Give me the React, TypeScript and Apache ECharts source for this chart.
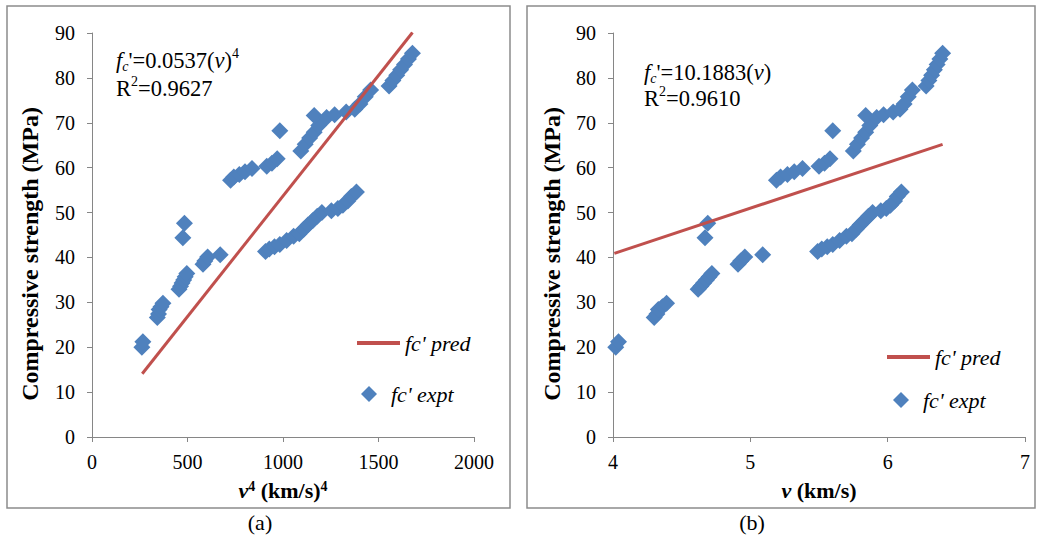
import React, { useEffect, useRef } from "react";
import * as echarts from "echarts";

// Pulse velocity v (km/s) and measured compressive strength (MPa)
const velocity = [
  4.02, 4.04,
  4.30, 4.32, 4.33, 4.36, 4.39,
  4.62, 4.64, 4.66, 4.68, 4.70, 4.72,
  4.67, 4.69,
  4.91, 4.93, 4.96, 5.09,
  5.49, 5.52, 5.56, 5.60, 5.65, 5.70, 5.74, 5.77, 5.80, 5.83, 5.86, 5.89, 5.95, 5.99, 6.02, 6.05, 6.07, 6.10,
  5.19, 5.22, 5.27, 5.32, 5.38, 5.50, 5.54, 5.58, 5.60,
  5.75, 5.78, 5.81, 5.84, 5.87, 5.84, 5.92, 5.97, 6.04, 6.09, 6.12, 6.15, 6.18,
  6.28, 6.30, 6.32, 6.34, 6.36, 6.38, 6.40,
];
const strength = [
  20.0, 21.2,
  26.6, 27.4, 28.4, 29.0, 29.8,
  32.9, 33.6, 34.3, 35.0, 35.7, 36.4,
  44.4, 47.6,
  38.5, 39.2, 40.1, 40.6,
  41.3, 41.9, 42.4, 42.9, 43.8, 44.7, 45.3, 46.3, 47.3, 48.2, 49.2, 50.0, 50.4, 50.9, 51.6, 52.6, 53.6, 54.6,
  57.2, 57.9, 58.5, 59.1, 59.8, 60.3, 61.0, 62.0, 68.2,
  63.7, 65.2, 66.6, 67.9, 69.4, 71.6, 71.2, 71.8, 72.4, 73.0, 74.2, 75.8, 77.3,
  78.2, 79.4, 80.6, 81.8, 83.0, 84.2, 85.5,
];

// Fitted (predicted) lines, endpoints
const predAx = [263, 1678];
const predAy = [14.1, 90.1];
const predBx = [4.01, 6.4];
const predBy = [40.9, 65.2];

const yTicks = [0, 90, 10];
const xTicksA = [0, 2000, 500];
const xTicksB = [4, 7, 1];

const FONT = "Liberation Serif";
const BLUE = "#4F81BD";
const RED = "#C0504D";
const AXIS = "#868686";

export default function App() {
  const ref = useRef<HTMLDivElement>(null);
  useEffect(() => {
    const chart = echarts.init(ref.current!, null, { renderer: "svg" });
    const exptA = velocity.map((v, i) => [v ** 4, strength[i]]);
    const exptB = velocity.map((v, i) => [v, strength[i]]);
    const predA = predAx.map((x, i) => [x, predAy[i]]);
    const predB = predBx.map((x, i) => [x, predBy[i]]);

    const axisLabel = (margin: number) => ({
      color: "#000",
      fontFamily: FONT,
      fontSize: 20,
      margin,
      formatter: (v: number) => String(v),
    });
    const axisLine = { show: true, lineStyle: { color: AXIS, width: 1 } };
    const axisTick = { show: true, length: 5, lineStyle: { color: AXIS } };

    const xName = {
      nameLocation: "middle" as const,
      nameGap: 42,
      nameTextStyle: {
        color: "#000",
        fontFamily: FONT,
        fontSize: 22,
        fontWeight: "bold" as const,
        rich: {
          bi: { fontFamily: FONT, fontSize: 22, fontWeight: "bold", fontStyle: "italic", color: "#000" },
          b: { fontFamily: FONT, fontSize: 22, fontWeight: "bold", color: "#000" },
          sup: { fontFamily: FONT, fontSize: 14, fontWeight: "bold", color: "#000", verticalAlign: "top" },
        },
      },
    };

    const legendText = {
      color: "#000",
      fontFamily: FONT,
      fontSize: 22,
      fontStyle: "italic" as const,
      lineHeight: 22,
    };
    const diamond = "path://M0,-1L1,0L0,1L-1,0Z";

    const eqRich = {
      n: { fontFamily: FONT, fontSize: 22.5, fill: "#000", lineHeight: 27 },
      i: { fontFamily: FONT, fontSize: 22.5, fontStyle: "italic", fill: "#000", lineHeight: 27 },
      sub: { fontFamily: FONT, fontSize: 14, fontStyle: "italic", fill: "#000", verticalAlign: "bottom" },
      sup: { fontFamily: FONT, fontSize: 14, fill: "#000", verticalAlign: "top" },
    };

    const option: any = {
      animation: false,
      backgroundColor: "#fff",
      textStyle: { fontFamily: FONT },
      grid: [
        { left: 92, top: 33, width: 382, height: 404 },
        { left: 613, top: 33, width: 412, height: 404 },
      ],
      xAxis: [
        {
          gridIndex: 0,
          type: "value",
          min: xTicksA[0],
          max: xTicksA[1],
          interval: xTicksA[2],
          name: "{bi|v}{sup|4}{b| (km/s)}{sup|4}",
          ...xName,
          axisLine,
          axisTick,
          axisLabel: axisLabel(15),
          splitLine: { show: false },
        },
        {
          gridIndex: 1,
          type: "value",
          min: xTicksB[0],
          max: xTicksB[1],
          interval: xTicksB[2],
          name: "{bi|v}{b| (km/s)}",
          ...xName,
          axisLine,
          axisTick,
          axisLabel: axisLabel(15),
          splitLine: { show: false },
        },
      ],
      yAxis: [0, 1].map((g) => ({
        gridIndex: g,
        type: "value",
        min: yTicks[0],
        max: yTicks[1],
        interval: yTicks[2],
        axisLine,
        axisTick,
        axisLabel: axisLabel(17),
        splitLine: { show: false },
      })),
      legend: [
        {
          data: [{ name: "fc' pred", icon: "rect" }],
          left: 357, top: 332, itemWidth: 43, itemHeight: 4,
          textStyle: legendText, selectedMode: false, padding: 0,
        },
        {
          data: [{ name: "fc' expt", icon: diamond }],
          left: 361, top: 383, itemWidth: 34, itemHeight: 16,
          textStyle: legendText, selectedMode: false, padding: 0,
        },
        {
          data: [{ name: "fc' pred", icon: "rect" }],
          left: 887, top: 346, itemWidth: 43, itemHeight: 4,
          textStyle: legendText, selectedMode: false, padding: 0,
        },
        {
          data: [{ name: "fc' expt", icon: diamond }],
          left: 893, top: 389, itemWidth: 34, itemHeight: 16,
          textStyle: legendText, selectedMode: false, padding: 0,
        },
      ],
      series: [
        {
          name: "fc' pred", type: "line", xAxisIndex: 0, yAxisIndex: 0,
          data: predA, symbol: "none",
          lineStyle: { color: RED, width: 3 }, itemStyle: { color: RED },
        },
        {
          name: "fc' pred", type: "line", xAxisIndex: 1, yAxisIndex: 1,
          data: predB, symbol: "none",
          lineStyle: { color: RED, width: 3 }, itemStyle: { color: RED },
        },
        {
          name: "fc' expt", type: "scatter", xAxisIndex: 0, yAxisIndex: 0,
          data: exptA, symbol: "diamond", symbolSize: 17,
          itemStyle: { color: BLUE, opacity: 1 },
        },
        {
          name: "fc' expt", type: "scatter", xAxisIndex: 1, yAxisIndex: 1,
          data: exptB, symbol: "diamond", symbolSize: 17,
          itemStyle: { color: BLUE, opacity: 1 },
        },
      ],
      graphic: [
        { type: "rect", shape: { x: 7, y: 6, width: 503, height: 502 }, style: { fill: "none", stroke: "#8c8c8c", lineWidth: 1.5 }, silent: true },
        { type: "rect", shape: { x: 527, y: 6, width: 508, height: 502 }, style: { fill: "none", stroke: "#8c8c8c", lineWidth: 1.5 }, silent: true },
        {
          type: "text", x: 30, y: 254, rotation: Math.PI / 2,
          style: { text: "Compressive strength (MPa)", font: `bold 24px ${FONT}`, fill: "#000", align: "center", verticalAlign: "middle" },
        },
        {
          type: "text", x: 552, y: 254, rotation: Math.PI / 2,
          style: { text: "Compressive strength (MPa)", font: `bold 24px ${FONT}`, fill: "#000", align: "center", verticalAlign: "middle" },
        },
        {
          type: "text", x: 116, y: 60,
          style: { text: "{i|f}{sub|c}{n|'=0.0537(}{i|v}{n|)}{sup|4}", rich: eqRich, align: "left", verticalAlign: "middle", fill: "#000" },
        },
        {
          type: "text", x: 116, y: 88,
          style: { text: "{n|R}{sup|2}{n|=0.9627}", rich: eqRich, align: "left", verticalAlign: "middle", fill: "#000" },
        },
        {
          type: "text", x: 644, y: 72,
          style: { text: "{i|f}{sub|c}{n|'=10.1883(}{i|v}{n|)}", rich: eqRich, align: "left", verticalAlign: "middle", fill: "#000" },
        },
        {
          type: "text", x: 644, y: 98,
          style: { text: "{n|R}{sup|2}{n|=0.9610}", rich: eqRich, align: "left", verticalAlign: "middle", fill: "#000" },
        },
        {
          type: "text", x: 260, y: 522,
          style: { text: "(a)", font: `22px ${FONT}`, fill: "#000", align: "center", verticalAlign: "middle" },
        },
        {
          type: "text", x: 752, y: 522,
          style: { text: "(b)", font: `22px ${FONT}`, fill: "#000", align: "center", verticalAlign: "middle" },
        },
      ],
    };
    chart.setOption(option);
    return () => chart.dispose();
  }, []);
  return (
    <div
      ref={ref}
      style={{ position: "fixed", left: 0, top: 0, width: 1043, height: 539, background: "#fff" }}
    />
  );
}
